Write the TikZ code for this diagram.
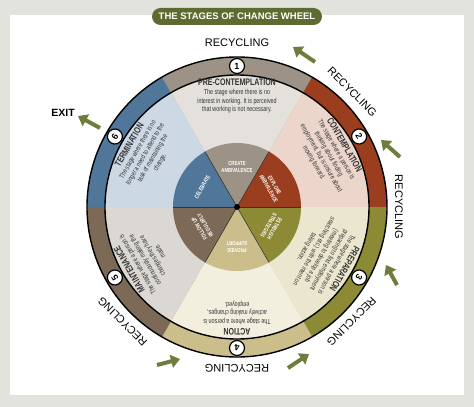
\documentclass[tikz,border=0pt]{standalone}
\usepackage{fontspec}
\setmainfont{Liberation Sans}
\newfontfamily\cond[FakeStretch=0.74]{Liberation Sans}
\usepackage{tikz}
\usetikzlibrary{arrows.meta,shapes}

\definecolor{ringA}{HTML}{9C9285}
\definecolor{ringB}{HTML}{9B3E1F}
\definecolor{ringC}{HTML}{8D8A35}
\definecolor{ringD}{HTML}{CBBE8B}
\definecolor{ringE}{HTML}{7C6956}
\definecolor{ringF}{HTML}{50769A}
\definecolor{lightA}{HTML}{E4E1DC}
\definecolor{lightB}{HTML}{ECD6CB}
\definecolor{lightC}{HTML}{EAE7CE}
\definecolor{lightD}{HTML}{F2EFDF}
\definecolor{lightE}{HTML}{DBD7D2}
\definecolor{lightF}{HTML}{CCD9E5}
\definecolor{titlegreen}{HTML}{5E6B30}
\definecolor{arrowgreen}{HTML}{6E7C3C}
\definecolor{framegray}{HTML}{E2E3DC}

\tikzstyle{stagetxt}=[align=center, inner sep=0pt, text=black!80,% stage description
font=\cond\fontsize{7.2}{8.6}\selectfont]
\tikzstyle{stepnum}=[circle, draw=black, fill=white, line width=1.2pt,
minimum size=15pt, inner sep=0pt, font=\bfseries\fontsize{9}{9}\selectfont]
\tikzstyle{hint}=[align=center, inner sep=0pt, text=white,
font=\cond\bfseries\fontsize{5.8}{6.8}\selectfont]
\tikzstyle{recyc}=[inner sep=0pt, font=\fontsize{11}{11}\selectfont]
\tikzstyle{cyc}=[-{Triangle[width=13pt,length=9pt]}, line width=4pt, draw=arrowgreen]

\newcommand{\sectorfill}[4]{\fill[#1] (0,0) -- (#2:#4) arc[start angle=#2, end angle=#3, radius=#4] -- cycle;}
\newcommand{\stagehead}[1]{{\bfseries\fontsize{9.5}{10.5}\selectfont #1}}

\begin{document}
\begin{tikzpicture}[x=1pt,y=1pt]
\useasboundingbox (-237,-200) rectangle (237,207);
\fill[framegray] (-237,-200) rectangle (237,207);
\fill[white] (-227,-188) rectangle (227,192);
\node[fill=titlegreen, rounded corners=8.5pt, minimum width=170pt, minimum height=17pt,
  text=white, font=\bfseries\fontsize{9.5}{9.5}\selectfont] (title) at (0,190.5) {THE STAGES OF CHANGE WHEEL};

% outer ring
\sectorfill{ringA}{60}{120}{150}
\sectorfill{ringB}{0}{60}{150}
\sectorfill{ringC}{-60}{0}{150}
\sectorfill{ringD}{-120}{-60}{150}
\sectorfill{ringE}{-180}{-120}{150}
\sectorfill{ringF}{120}{180}{150}
% stage sectors
\sectorfill{lightA}{60}{120}{132}
\sectorfill{lightB}{0}{60}{132}
\sectorfill{lightC}{-60}{0}{132}
\sectorfill{lightD}{-120}{-60}{132}
\sectorfill{lightE}{-180}{-120}{132}
\sectorfill{lightF}{120}{180}{132}
% inner wheel
\sectorfill{ringA}{60}{120}{64}
\sectorfill{ringB}{0}{60}{64}
\sectorfill{ringC}{-60}{0}{64}
\sectorfill{ringD}{-120}{-60}{64}
\sectorfill{ringE}{-180}{-120}{64}
\sectorfill{ringF}{120}{180}{64}
\draw[line width=1.4pt] (0,0) circle (150);
\draw[line width=1.4pt] (0,0) circle (132);
\foreach \a in {0,60,...,300} \draw[black!80, line width=0.6pt] (0,0) -- (\a:64);
\fill (0,0) circle (3);

\node[stepnum] (n1) at (90:141) {1};
\node[stepnum, rotate=-60] (n2) at (30:141) {2};
\node[stepnum, rotate=-120] (n3) at (-30:141) {3};
\node[stepnum, rotate=180] (n4) at (-90:141) {4};
\node[stepnum, rotate=120] (n5) at (-150:141) {5};
\node[stepnum, rotate=60] (n6) at (150:141) {6};

\node[stagetxt, anchor=north] (pre) at (90:128) {\stagehead{PRE-CONTEMPLATION}\\
  The stage where there is no\\ interest in working. It is perceived\\ that working is not necessary.};
\node[stagetxt, anchor=north, rotate=-60] (cont) at (30:128) {\stagehead{CONTEMPLATION}\\
  The stage where a person is\\ thinking about finding\\ employment, but is unsure about\\ moving forward.};
\node[stagetxt, anchor=north, rotate=-120] (prep) at (-30:128) {\stagehead{PREPARATION}\\
  The stage where a person is\\ preparing to find employment\\ (meeting to develop a job\\ searching etc.) with the intent on\\ taking action.};
\node[stagetxt, anchor=north, rotate=180] (act) at (-90:128) {\stagehead{ACTION}\\
  The stage where a person is\\ actively making changes,\\ employed.};
\node[stagetxt, anchor=north, rotate=120] (maint) at (-150:128) {\stagehead{MAINTENANCE}\\
  The stage where a person is\\ continuously making the\\ changes they have\\ made.};
\node[stagetxt, anchor=north, rotate=60] (term) at (150:128) {\stagehead{TERMINATION}\\
  The stage where there is no\\ longer a need to attend to the\\ task of maintaining the\\ change.};

\node[hint] (create) at (90:40) {CREATE\\AMBIVALENCE};
\node[hint, rotate=-60] (explore) at (30:40) {EXPLORE\\AMBIVALENCE};
\node[hint, rotate=-120] (establish) at (-30:40) {ESTABLISH\\STRATEGIES};
\node[hint, rotate=180] (support) at (-90:40) {PROVIDE\\SUPPORT};
\node[hint, rotate=120] (follow) at (-150:40) {FOLLOW UP\\REGULARLY};
\node[hint, rotate=60] (celebrate) at (150:40) {CELEBRATE};

\node[recyc] (r1) at (90:164) {RECYCLING};
\node[recyc, rotate=-45] (r2) at (45:163) {RECYCLING};
\node[recyc, rotate=-90] (r3) at (0:162) {RECYCLING};
\node[recyc, rotate=-135] (r4) at (-45:162) {RECYCLING};
\node[recyc, rotate=180] (r5) at (-90:161) {RECYCLING};
\node[recyc, rotate=135] (r6) at (-135:162) {RECYCLING};
\node[font=\bfseries\fontsize{10.5}{10.5}\selectfont] (exit) at (-174,94) {EXIT};

% recycling arrows
\coordinate (a1s) at (78,145);  \coordinate (a1e) at (56,160);
\coordinate (a2s) at (163,50);  \coordinate (a2e) at (144,67);
\coordinate (a3s) at (160,-78); \coordinate (a3e) at (149,-58);
\coordinate (a4s) at (51,-161); \coordinate (a4e) at (72,-147);
\coordinate (a5s) at (-80,-158); \coordinate (a5e) at (-57,-152);
\coordinate (a6s) at (-137,79); \coordinate (a6e) at (-159,91);
\draw[cyc] (a1s) -- (a1e);
\draw[cyc] (a2s) -- (a2e);
\draw[cyc] (a3s) -- (a3e);
\draw[cyc] (a4s) -- (a4e);
\draw[cyc] (a5s) -- (a5e);
\draw[cyc] (a6s) -- (a6e);
\end{tikzpicture}
\end{document}
